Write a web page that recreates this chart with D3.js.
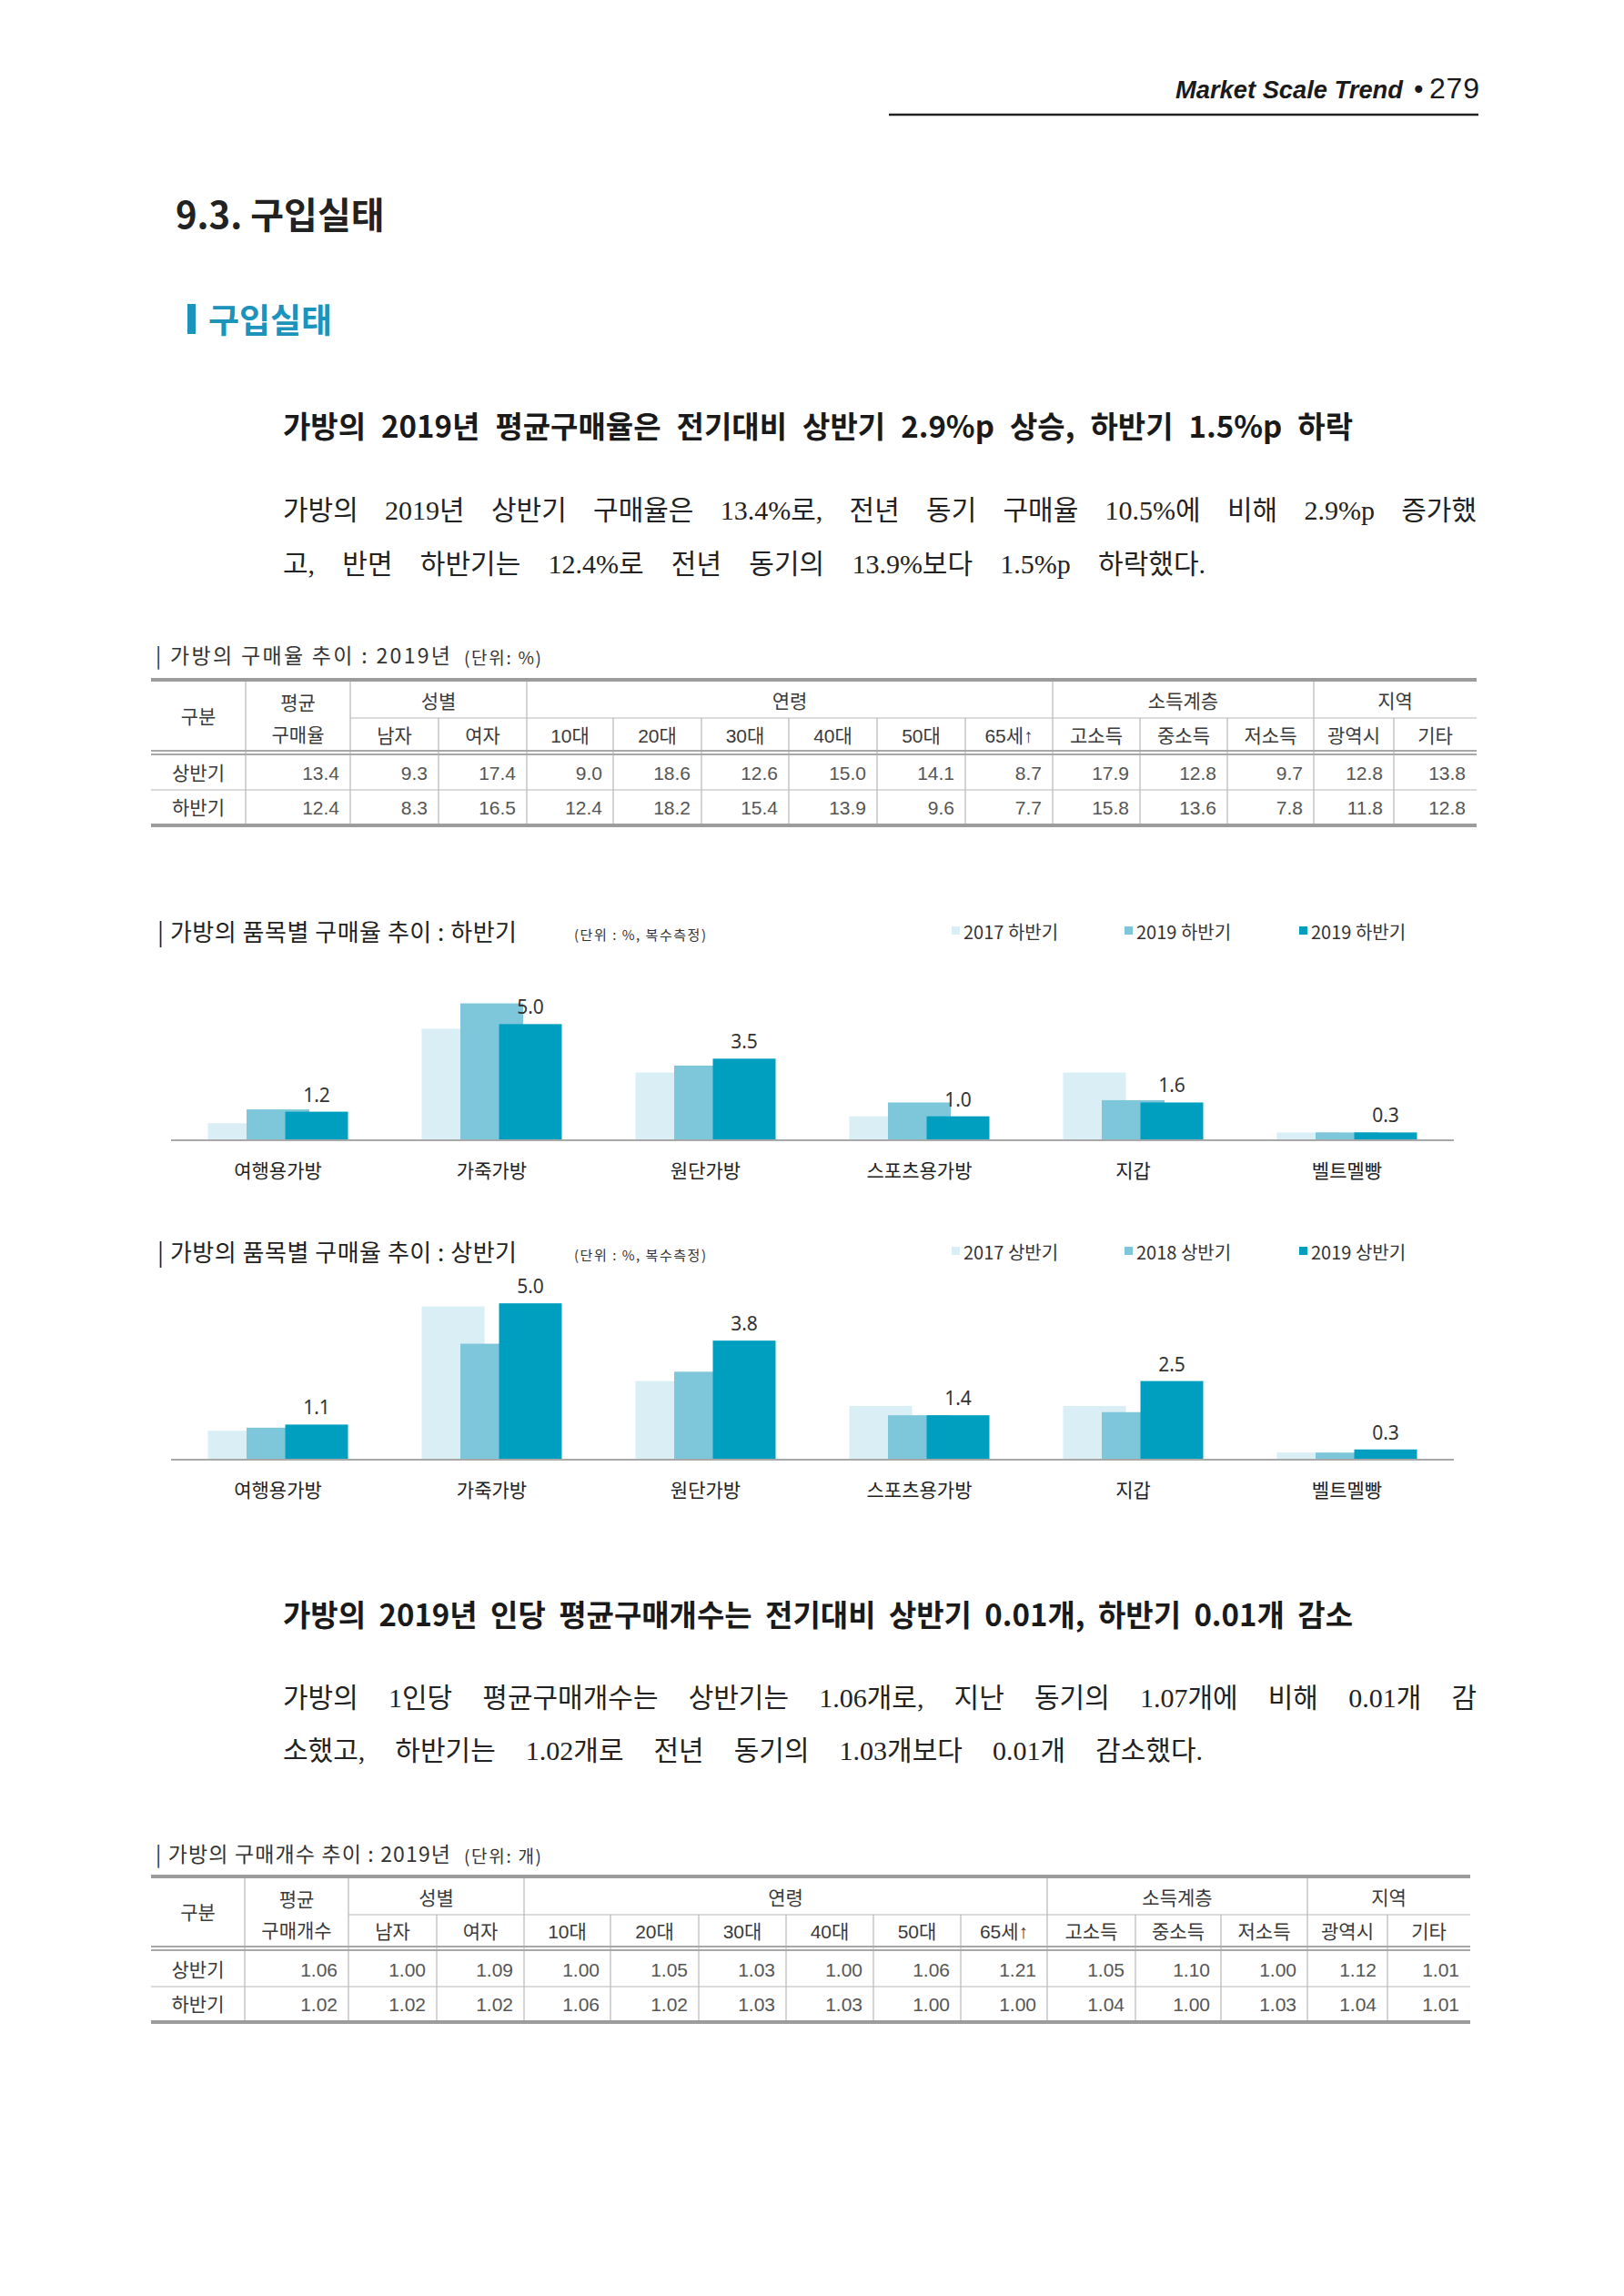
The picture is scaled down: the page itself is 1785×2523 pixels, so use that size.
<!DOCTYPE html>
<html><head><meta charset="utf-8">
<script src="https://cdn.jsdelivr.net/npm/d3@7"></script>
<style>body{margin:0;background:#fff} svg{display:block}</style>
</head><body><svg id="c" width="1785" height="2523"></svg>
<script>
// ---------------- DATA ----------------
const groupHeaders = ["성별", "연령", "소득계층", "지역"];
const groupSpans = [2, 6, 3, 2];
const subCols = ["남자","여자","10대","20대","30대","40대","50대","65세↑","고소득","중소득","저소득","광역시","기타"];
const rowLabels = ["상반기", "하반기"];
// purchase rate table (%) : [평균, 남자, 여자, 10대 ... 기타]
const rateH1 = [13.4, 9.3, 17.4, 9.0, 18.6, 12.6, 15.0, 14.1, 8.7, 17.9, 12.8, 9.7, 12.8, 13.8];
const rateH2 = [12.4, 8.3, 16.5, 12.4, 18.2, 15.4, 13.9, 9.6, 7.7, 15.8, 13.6, 7.8, 11.8, 12.8];
// purchase count table (개)
const countH1 = [1.06, 1.00, 1.09, 1.00, 1.05, 1.03, 1.00, 1.06, 1.21, 1.05, 1.10, 1.00, 1.12, 1.01];
const countH2 = [1.02, 1.02, 1.02, 1.06, 1.02, 1.03, 1.03, 1.00, 1.00, 1.04, 1.00, 1.03, 1.04, 1.01];

const items = ["여행용가방", "가죽가방", "원단가방", "스포츠용가방", "지갑", "벨트멜빵"];
// 하반기 chart
const legendH2 = ["2017 하반기", "2019 하반기", "2019 하반기"];
const h2_2017 = [0.7, 4.8, 2.9, 1.0, 2.9, 0.3];
const h2_2018 = [1.3, 5.9, 3.2, 1.6, 1.7, 0.3];
const h2_2019 = [1.2, 5.0, 3.5, 1.0, 1.6, 0.3];
// 상반기 chart
const legendH1 = ["2017 상반기", "2018 상반기", "2019 상반기"];
const h1_2017 = [0.9, 4.9, 2.5, 1.7, 1.7, 0.2];
const h1_2018 = [1.0, 3.7, 2.8, 1.4, 1.5, 0.2];
const h1_2019 = [1.1, 5.0, 3.8, 1.4, 2.5, 0.3];

// ---------------- DRAW ----------------
const svg = d3.select("#c");
svg.append("rect").attr("width", 1785).attr("height", 2523).attr("fill", "#fff");
const KR = "'Noto Sans CJK KR', 'Noto Sans', sans-serif";
const TBL = "'Liberation Sans', 'Noto Sans CJK KR', sans-serif";
const SERIF = "'Liberation Serif', 'Noto Sans CJK KR', serif";

// header
svg.append("line").attr("x1", 977).attr("x2", 1625).attr("y1", 126).attr("y2", 126)
  .attr("stroke", "#222").attr("stroke-width", 2.5);
svg.append("text").attr("x", 1292).attr("y", 108).attr("font-family", "'Liberation Sans', sans-serif")
  .attr("font-size", 27).attr("font-weight", "bold").attr("font-style", "italic").attr("fill", "#1a1a1a")
  .attr("textLength", 250).attr("lengthAdjust", "spacingAndGlyphs").text("Market Scale Trend");
svg.append("text").attr("x", 1551).attr("y", 108).attr("font-family", "'DejaVu Sans', sans-serif")
  .attr("font-size", 28).attr("fill", "#1a1a1a").text("•");
svg.append("text").attr("x", 1571).attr("y", 108).attr("font-family", "'Liberation Sans', sans-serif")
  .attr("font-size", 32).attr("fill", "#1a1a1a").attr("textLength", 55).text("279");

// section titles
svg.append("text").attr("x", 193).attr("y", 234).attr("dominant-baseline", "central")
  .attr("font-family", KR).attr("font-size", 40).attr("font-weight", 700).attr("fill", "#222")
  .text("9.3. 구입실태");
svg.append("rect").attr("x", 206).attr("y", 334).attr("width", 9).attr("height", 33).attr("fill", "#1b93ba");
svg.append("text").attr("x", 229).attr("y", 350).attr("dominant-baseline", "central")
  .attr("font-family", KR).attr("font-size", 37).attr("font-weight", 700).attr("fill", "#1b93ba")
  .text("구입실태");

function justifyLine(text, x0, x1, y, attrs) {
  const words = text.split(" ");
  const g = svg.append("g");
  const t = g.selectAll("text").data(words).join("text")
    .attr("y", y).attr("dominant-baseline", "central").text(d => d);
  Object.entries(attrs).forEach(([k, v]) => t.attr(k, v));
  const widths = t.nodes().map(n => n.getComputedTextLength());
  const sum = d3.sum(widths);
  const gap = words.length > 1 ? (x1 - x0 - sum) / (words.length - 1) : 0;
  let x = x0;
  t.each(function(d, i) { d3.select(this).attr("x", x); x += widths[i] + gap; });
}

const headAttrs = {"font-family": KR, "font-size": 33, "font-weight": 700, "fill": "#1a1a1a"};
const paraAttrs = {"font-family": SERIF, "font-size": 30, "fill": "#222"};

justifyLine("가방의 2019년 평균구매율은 전기대비 상반기 2.9%p 상승, 하반기 1.5%p 하락", 311, 1487, 467, headAttrs);
justifyLine("가방의 2019년 상반기 구매율은 13.4%로, 전년 동기 구매율 10.5%에 비해 2.9%p 증가했", 311, 1623, 560, paraAttrs);
justifyLine("고, 반면 하반기는 12.4%로 전년 동기의 13.9%보다 1.5%p 하락했다.", 311, 1325, 619, paraAttrs);

justifyLine("가방의 2019년 인당 평균구매개수는 전기대비 상반기 0.01개, 하반기 0.01개 감소", 311, 1487, 1773, headAttrs);
justifyLine("가방의 1인당 평균구매개수는 상반기는 1.06개로, 지난 동기의 1.07개에 비해 0.01개 감", 311, 1623, 1865, paraAttrs);
justifyLine("소했고, 하반기는 1.02개로 전년 동기의 1.03개보다 0.01개 감소했다.", 311, 1322, 1923, paraAttrs);

// ---------------- TABLES ----------------
function caption(y, main, unit) {
  svg.append("text").attr("x", 171).attr("y", y).attr("dominant-baseline", "central")
    .attr("font-family", KR).attr("font-size", 23).attr("fill", "#333")
    .attr("textLength", 324).attr("lengthAdjust", "spacing").text(main);
  svg.append("text").attr("x", 510).attr("y", y + 2).attr("dominant-baseline", "central")
    .attr("font-family", KR).attr("font-size", 19).attr("fill", "#333")
    .attr("textLength", 85).attr("lengthAdjust", "spacing").text(unit);
}

function drawTable(cfg) {
  const g = svg.append("g");
  const e = cfg.edges, L = e[0], R = e[e.length - 1];
  const hl = (y, x1, x2, w, c) => g.append("line").attr("x1", x1).attr("x2", x2).attr("y1", y).attr("y2", y)
    .attr("stroke", c).attr("stroke-width", w);
  const vl = (x, y1, y2) => g.append("line").attr("x1", x).attr("x2", x).attr("y1", y1).attr("y2", y2)
    .attr("stroke", "#b8b8b8").attr("stroke-width", 1.2);
  // group boundaries (edge indices)
  const groupEdgeIdx = [2];
  groupSpans.forEach(s => groupEdgeIdx.push(groupEdgeIdx[groupEdgeIdx.length - 1] + s));
  // vertical lines
  [1, 2].concat(groupEdgeIdx.slice(1, -1)).forEach(i => vl(e[i], cfg.yTop, cfg.yBot));
  for (let i = 3; i < e.length - 1; i++) if (!groupEdgeIdx.includes(i)) vl(e[i], cfg.ySplit, cfg.yBot);
  // horizontal lines
  hl(cfg.yTop, L, R, 4, "#9c9c9c");
  hl(cfg.ySplit, e[2], R, 1.2, "#b8b8b8");
  hl(cfg.yDbl, L, R, 2, "#a8a8a8");
  hl(cfg.yDbl + 4, L, R, 2, "#a8a8a8");
  hl(cfg.ySep, L, R, 1.2, "#b8b8b8");
  hl(cfg.yBot, L, R, 4, "#9c9c9c");

  const txt = (x, y, s, anchor) => g.append("text").attr("x", x).attr("y", y)
    .attr("dominant-baseline", "central").attr("text-anchor", anchor || "middle")
    .attr("font-family", TBL).attr("font-size", 21).attr("fill", "#3a3a3a").text(s);
  const gy = (cfg.yTop + cfg.ySplit) / 2 + 2;
  const sy = (cfg.ySplit + cfg.yDbl) / 2 + 1;
  txt((e[0] + e[1]) / 2, (cfg.yTop + cfg.yDbl) / 2 + 1, "구분");
  txt((e[1] + e[2]) / 2, gy + 2, cfg.avg[0]);
  txt((e[1] + e[2]) / 2, sy - 1, cfg.avg[1]);
  groupHeaders.forEach((h, i) => txt((e[groupEdgeIdx[i]] + e[groupEdgeIdx[i + 1]]) / 2, gy, h));
  subCols.forEach((h, i) => txt((e[i + 2] + e[i + 3]) / 2, sy, h));
  const r1 = (cfg.yDbl + 4 + cfg.ySep) / 2 + 1, r2 = (cfg.ySep + cfg.yBot) / 2;
  [[r1, cfg.rows[0]], [r2, cfg.rows[1]]].forEach(([y, vals], ri) => {
    txt((e[0] + e[1]) / 2, y, rowLabels[ri]);
    vals.forEach((v, i) => txt(e[i + 2] - 12, y, cfg.fmt(v), "end").attr("fill", "#555"));
  });
}

caption(719, "| 가방의 구매율 추이 : 2019년", "(단위: %)");
drawTable({
  edges: [166, 270, 385, 482, 579, 674, 771, 867, 964, 1061, 1157, 1253, 1349, 1444, 1532, 1623],
  yTop: 747, ySplit: 789, yDbl: 825, ySep: 868, yBot: 907,
  avg: ["평균", "구매율"], rows: [rateH1, rateH2], fmt: d3.format(".1f")
});

caption(2036, "| 가방의 구매개수 추이 : 2019년", "(단위: 개)");
drawTable({
  edges: [166, 269, 383, 480, 576, 671, 768, 864, 960, 1056, 1151, 1248, 1342, 1437, 1525, 1616],
  yTop: 2062, ySplit: 2104, yDbl: 2139, ySep: 2183, yBot: 2222,
  avg: ["평균", "구매개수"], rows: [countH1, countH2], fmt: d3.format(".2f")
});

// ---------------- BAR CHARTS ----------------
const colors = ["#daeef6", "#7ec7db", "#009fbf"];
function drawChart(cfg) {
  const g = svg.append("g");
  const x = d3.scaleBand().domain(items).range([188, 1598]);
  const y = d3.scaleLinear().domain([0, 6]).range([cfg.base, cfg.base - cfg.h6]);
  const barW = 69, step = 42.5, groupW = step * 2 + barW;
  // title
  g.append("text").attr("x", 173).attr("y", cfg.titleY).attr("dominant-baseline", "central")
    .attr("font-family", KR).attr("font-size", 26).attr("fill", "#222")
    .attr("textLength", 395).attr("lengthAdjust", "spacing").text(cfg.title);
  g.append("text").attr("x", 631).attr("y", cfg.titleY + 4).attr("dominant-baseline", "central")
    .attr("font-family", KR).attr("font-size", 15).attr("fill", "#333")
    .attr("textLength", 145).attr("lengthAdjust", "spacing").text("(단위 : %, 복수측정)");
  // legend
  const lx = [1046, 1236, 1428];
  cfg.legend.forEach((lab, i) => {
    g.append("rect").attr("x", lx[i]).attr("y", cfg.titleY - 4).attr("width", 9).attr("height", 9).attr("fill", colors[i]);
    g.append("text").attr("x", lx[i] + 13).attr("y", cfg.titleY + 1).attr("dominant-baseline", "central")
      .attr("font-family", KR).attr("font-size", 20).attr("fill", "#333").text(lab);
  });
  // bars
  cfg.series.forEach((ser, si) => {
    g.selectAll(null).data(ser).join("rect")
      .attr("x", (d, i) => x(items[i]) + x.bandwidth() / 2 - groupW / 2 + si * step)
      .attr("width", barW)
      .attr("y", d => y(d)).attr("height", d => y(0) - y(d))
      .attr("fill", colors[si]);
  });
  // baseline
  g.append("line").attr("x1", 188).attr("x2", 1598).attr("y1", cfg.base + 1).attr("y2", cfg.base + 1)
    .attr("stroke", "#a8a8a8").attr("stroke-width", 2);
  // value labels (last series)
  const last = cfg.series[2];
  g.selectAll(null).data(last).join("text")
    .attr("x", (d, i) => x(items[i]) + x.bandwidth() / 2 - groupW / 2 + 2 * step + barW / 2)
    .attr("y", d => y(d) - 19).attr("dominant-baseline", "central").attr("text-anchor", "middle")
    .attr("font-family", "'Noto Sans', sans-serif").attr("font-size", 21).attr("fill", "#333")
    .text(d => d3.format(".1f")(d));
  // category labels
  g.selectAll(null).data(items).join("text")
    .attr("x", d => x(d) + x.bandwidth() / 2).attr("y", cfg.base + 33)
    .attr("dominant-baseline", "central").attr("text-anchor", "middle")
    .attr("font-family", KR).attr("font-size", 21).attr("fill", "#222").text(d => d);
}

drawChart({ title: "| 가방의 품목별 구매율 추이 : 하반기", titleY: 1022, legend: legendH2,
  series: [h2_2017, h2_2018, h2_2019], base: 1252, h6: 152 });
drawChart({ title: "| 가방의 품목별 구매율 추이 : 상반기", titleY: 1374, legend: legendH1,
  series: [h1_2017, h1_2018, h1_2019], base: 1603, h6: 205 });
</script></body></html>
